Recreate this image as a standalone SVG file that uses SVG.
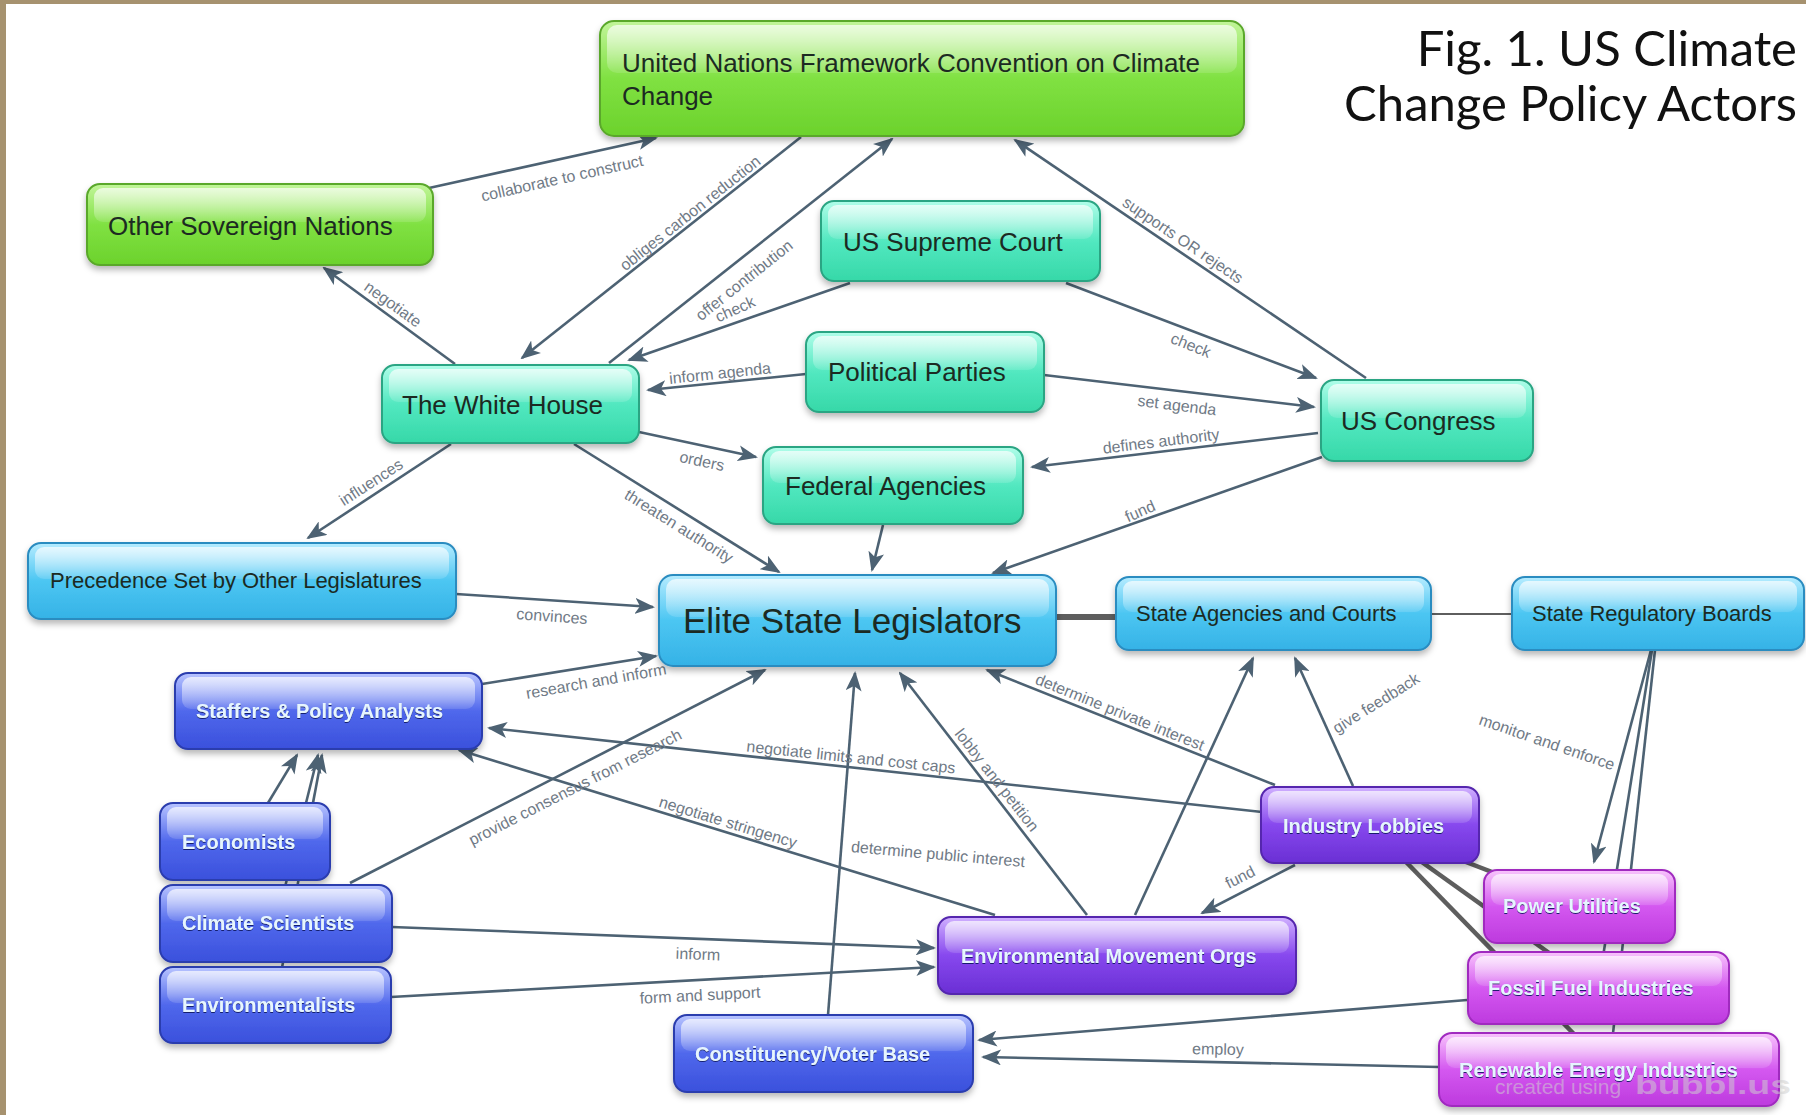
<svg xmlns="http://www.w3.org/2000/svg" width="1806" height="1115" viewBox="0 0 1806 1115">
<defs>
<style>
.lbl{font-family:"Liberation Sans",Arial,sans-serif;font-size:16px;fill:#707a86;text-anchor:middle}
.cn{stroke:#4d6273;stroke-width:2.6;fill:none}
.ar{marker-end:url(#ah)}
.lk{stroke:#5e5e5e;fill:none}
.box{stroke-width:2;filter:url(#sh)}
.hl{fill:url(#gl)}
.nt{font-family:"Liberation Sans",Arial,sans-serif;font-size:26px;fill:#1c2a22}
.n22{font-size:22px}
.n35{font-size:35px}
.lt{font-family:"Liberation Sans",Arial,sans-serif;font-size:20px;font-weight:bold;fill:#e6f5ff;filter:url(#ts)}
.green{fill:url(#gGreen);stroke:#5aa82c}
.teal{fill:url(#gTeal);stroke:#2aa583}
.cyan{fill:url(#gCyan);stroke:#2a8cc0}
.blue{fill:url(#gBlue);stroke:#2b3cae}
.purple{fill:url(#gPurple);stroke:#5427ae}
.magenta{fill:url(#gMag);stroke:#a02cbf}
.title{font-family:Lato,"Noto Sans",sans-serif;font-size:49px;fill:#111;text-anchor:end}
.wm{font-family:"Liberation Sans",Arial,sans-serif;fill:#cfcfcf;fill-opacity:0.55}
</style>
<linearGradient id="gGreen" x1="0" y1="0" x2="0" y2="1"><stop offset="0" stop-color="#c2f59a"/><stop offset="0.5" stop-color="#80e142"/><stop offset="1" stop-color="#6cd22c"/></linearGradient>
<linearGradient id="gTeal" x1="0" y1="0" x2="0" y2="1"><stop offset="0" stop-color="#b0fde9"/><stop offset="0.5" stop-color="#52e8c0"/><stop offset="1" stop-color="#36d8a8"/></linearGradient>
<linearGradient id="gCyan" x1="0" y1="0" x2="0" y2="1"><stop offset="0" stop-color="#b6ecff"/><stop offset="0.5" stop-color="#4cc6f2"/><stop offset="1" stop-color="#35b2e6"/></linearGradient>
<linearGradient id="gBlue" x1="0" y1="0" x2="0" y2="1"><stop offset="0" stop-color="#b8c4ff"/><stop offset="0.5" stop-color="#5068ec"/><stop offset="1" stop-color="#3a50dc"/></linearGradient>
<linearGradient id="gPurple" x1="0" y1="0" x2="0" y2="1"><stop offset="0" stop-color="#d0b0ff"/><stop offset="0.5" stop-color="#8748ee"/><stop offset="1" stop-color="#6a2fd4"/></linearGradient>
<linearGradient id="gMag" x1="0" y1="0" x2="0" y2="1"><stop offset="0" stop-color="#f8c4fc"/><stop offset="0.5" stop-color="#d458f0"/><stop offset="1" stop-color="#bd3ade"/></linearGradient>
<linearGradient id="gl" x1="0" y1="0" x2="0" y2="1"><stop offset="0" stop-color="#fff" stop-opacity="0.7"/><stop offset="1" stop-color="#fff" stop-opacity="0.12"/></linearGradient>
<filter id="sh" x="-10%" y="-20%" width="120%" height="150%"><feDropShadow dx="0" dy="4" stdDeviation="3" flood-color="#000" flood-opacity="0.28"/></filter>
<filter id="ts" x="-5%" y="-20%" width="110%" height="150%"><feDropShadow dx="0" dy="1" stdDeviation="0.6" flood-color="#101860" flood-opacity="0.9"/></filter>
<marker id="ah" viewBox="0 0 20 16" refX="18" refY="8" markerWidth="20" markerHeight="16" markerUnits="userSpaceOnUse" orient="auto"><path d="M0,0 L20,8 L0,16 L5,8 Z" fill="#4d6273"/></marker>
</defs>
<rect x="0" y="0" width="1806" height="1115" fill="#fff"/>
<rect x="0" y="0" width="1806" height="4" fill="#a6926f"/>
<rect x="0" y="0" width="6" height="1115" fill="#a6926f"/>

<g id="connectors">
<line class="lk" stroke-width="6" x1="1056" y1="617" x2="1116" y2="617"/>
<line class="lk" stroke-width="2" x1="1431" y1="614" x2="1512" y2="614"/>
<line class="lk" stroke-width="4.5" x1="1370" y1="825" x2="1580" y2="906"/>
<line class="lk" stroke-width="4.5" x1="1370" y1="825" x2="1598" y2="988"/>
<line class="lk" stroke-width="4.5" x1="1370" y1="825" x2="1609" y2="1070"/>
<line class="cn ar" x1="429" y1="188" x2="656" y2="138"/>
<line class="cn ar" x1="801" y1="137" x2="522" y2="358"/>
<line class="cn ar" x1="609" y1="363" x2="892" y2="139"/>
<line class="cn ar" x1="850" y1="283" x2="629" y2="360"/>
<line class="cn ar" x1="455" y1="364" x2="324" y2="268"/>
<line class="cn ar" x1="1366" y1="378" x2="1015" y2="140"/>
<line class="cn ar" x1="1066" y1="283" x2="1316" y2="378"/>
<line class="cn ar" x1="806" y1="374" x2="648" y2="390"/>
<line class="cn ar" x1="1044" y1="375" x2="1314" y2="407"/>
<line class="cn ar" x1="1318" y1="433" x2="1032" y2="467"/>
<line class="cn ar" x1="639" y1="432" x2="756" y2="457"/>
<line class="cn ar" x1="574" y1="444" x2="779" y2="572"/>
<line class="cn ar" x1="451" y1="444" x2="308" y2="538"/>
<line class="cn ar" x1="883" y1="525" x2="872" y2="570"/>
<line class="cn ar" x1="1322" y1="457" x2="993" y2="573"/>
<line class="cn ar" x1="456" y1="594" x2="653" y2="607"/>
<line class="cn ar" x1="482" y1="684" x2="656" y2="656"/>
<line class="cn ar" x1="350" y1="883" x2="765" y2="670"/>
<line class="cn ar" x1="1262" y1="812" x2="489" y2="728"/>
<line class="cn ar" x1="995" y1="915" x2="459" y2="750"/>
<line class="cn ar" x1="828" y1="1015" x2="855" y2="673"/>
<line class="cn ar" x1="1087" y1="915" x2="900" y2="673"/>
<line class="cn ar" x1="1135" y1="915" x2="1253" y2="658"/>
<line class="cn ar" x1="1353" y1="786" x2="1295" y2="658"/>
<line class="cn ar" x1="1275" y1="785" x2="987" y2="670"/>
<line class="cn ar" x1="1295" y1="865" x2="1202" y2="913"/>
<line class="cn ar" x1="1651" y1="650" x2="1594" y2="862"/>
<line class="cn" stroke-width="2" x1="1652" y1="650" x2="1598" y2="988"/>
<line class="cn" stroke-width="2" x1="1655" y1="650" x2="1609" y2="1070"/>
<line class="cn ar" x1="245" y1="841" x2="297" y2="755"/>
<line class="cn ar" x1="276" y1="923" x2="318" y2="755"/>
<line class="cn ar" x1="275" y1="1005" x2="322" y2="755"/>
<line class="cn ar" x1="392" y1="927" x2="934" y2="948"/>
<line class="cn ar" x1="391" y1="997" x2="934" y2="967"/>
<line class="cn ar" x1="1467" y1="1000" x2="979" y2="1040"/>
<line class="cn ar" x1="1439" y1="1067" x2="983" y2="1057"/>

<text class="lbl" transform="translate(562 178) rotate(-12.5)" dy="0.35em">collaborate to construct</text>
<text class="lbl" transform="translate(690 213) rotate(-38.4)" dy="0.35em">obliges carbon reduction</text>
<text class="lbl" transform="translate(744 280) rotate(-38.5)" dy="0.35em">offer contribution</text>
<text class="lbl" transform="translate(735 309) rotate(-24)" dy="0.35em">check</text>
<text class="lbl" transform="translate(393 304) rotate(36)" dy="0.35em">negotiate</text>
<text class="lbl" transform="translate(1183 240) rotate(34)" dy="0.35em">supports OR rejects</text>
<text class="lbl" transform="translate(1191 345) rotate(22)" dy="0.35em">check</text>
<text class="lbl" transform="translate(720 373) rotate(-6)" dy="0.35em">inform agenda</text>
<text class="lbl" transform="translate(1177 405) rotate(7)" dy="0.35em">set agenda</text>
<text class="lbl" transform="translate(1161 441) rotate(-7)" dy="0.35em">defines authority</text>
<text class="lbl" transform="translate(702 461) rotate(12)" dy="0.35em">orders</text>
<text class="lbl" transform="translate(679 526) rotate(32)" dy="0.35em">threaten authority</text>
<text class="lbl" transform="translate(371 482) rotate(-33)" dy="0.35em">influences</text>
<text class="lbl" transform="translate(1140 511) rotate(-24)" dy="0.35em">fund</text>
<text class="lbl" transform="translate(552 616) rotate(4)" dy="0.35em">convinces</text>
<text class="lbl" transform="translate(596 681) rotate(-10)" dy="0.35em">research and inform</text>
<text class="lbl" transform="translate(575 787) rotate(-27)" dy="0.35em">provide consensus from research</text>
<text class="lbl" transform="translate(851 757) rotate(6)" dy="0.35em">negotiate limits and cost caps</text>
<text class="lbl" transform="translate(728 822) rotate(17)" dy="0.35em">negotiate stringency</text>
<text class="lbl" transform="translate(938 854) rotate(5)" dy="0.35em">determine public interest</text>
<text class="lbl" transform="translate(997 780) rotate(52)" dy="0.35em">lobby and petition</text>
<text class="lbl" transform="translate(1376 703) rotate(-32)" dy="0.35em">give feedback</text>
<text class="lbl" transform="translate(1120 712) rotate(22)" dy="0.35em">determine private interest</text>
<text class="lbl" transform="translate(1240 877) rotate(-27)" dy="0.35em">fund</text>
<text class="lbl" transform="translate(1547 742) rotate(19)" dy="0.35em">monitor and enforce</text>
<text class="lbl" transform="translate(698 954) rotate(2)" dy="0.35em">inform</text>
<text class="lbl" transform="translate(700 995) rotate(-3)" dy="0.35em">form and support</text>
<text class="lbl" transform="translate(1218 1049) rotate(1)" dy="0.35em">employ</text>
</g>

<g id="node-unfccc"><rect class="box green" x="600" y="21" width="644" height="115" rx="14"/><rect class="hl" x="607" y="25" width="630" height="48" rx="10"/><text class="nt" x="622" y="72">United Nations Framework Convention on Climate</text><text class="nt" x="622" y="105">Change</text></g>
<g id="node-osn"><rect class="box green" x="87" y="184" width="346" height="81" rx="13"/><rect class="hl" x="94" y="188" width="332" height="34" rx="9"/><text class="nt" x="108" y="235">Other Sovereign Nations</text></g>
<g id="node-sc"><rect class="box teal" x="821" y="201" width="279" height="80" rx="13"/><rect class="hl" x="828" y="205" width="265" height="34" rx="9"/><text class="nt" x="843" y="251">US Supreme Court</text></g>
<g id="node-pp"><rect class="box teal" x="806" y="332" width="238" height="80" rx="13"/><rect class="hl" x="813" y="336" width="224" height="34" rx="9"/><text class="nt" x="828" y="381">Political Parties</text></g>
<g id="node-wh"><rect class="box teal" x="382" y="365" width="257" height="78" rx="13"/><rect class="hl" x="389" y="369" width="243" height="33" rx="9"/><text class="nt" x="402" y="414">The White House</text></g>
<g id="node-congress"><rect class="box teal" x="1321" y="380" width="212" height="81" rx="13"/><rect class="hl" x="1328" y="384" width="198" height="34" rx="9"/><text class="nt" x="1341" y="430">US Congress</text></g>
<g id="node-fa"><rect class="box teal" x="763" y="447" width="260" height="77" rx="13"/><rect class="hl" x="770" y="451" width="246" height="32" rx="9"/><text class="nt" x="785" y="495">Federal Agencies</text></g>
<g id="node-prec"><rect class="box cyan" x="28" y="543" width="428" height="76" rx="13"/><rect class="hl" x="35" y="547" width="414" height="32" rx="9"/><text class="nt n22" x="50" y="588">Precedence Set by Other Legislatures</text></g>
<g id="node-elite"><rect class="box cyan" x="659" y="575" width="397" height="91" rx="14"/><rect class="hl" x="666" y="579" width="383" height="38" rx="10"/><text class="nt n35" x="683" y="633">Elite State Legislators</text></g>
<g id="node-sac"><rect class="box cyan" x="1116" y="577" width="315" height="73" rx="13"/><rect class="hl" x="1123" y="581" width="301" height="31" rx="9"/><text class="nt n22" x="1136" y="621">State Agencies and Courts</text></g>
<g id="node-srb"><rect class="box cyan" x="1512" y="577" width="292" height="73" rx="13"/><rect class="hl" x="1519" y="581" width="278" height="31" rx="9"/><text class="nt n22" x="1532" y="621">State Regulatory Boards</text></g>
<g id="node-staffers"><rect class="box blue" x="175" y="673" width="307" height="76" rx="13"/><rect class="hl" x="182" y="677" width="293" height="32" rx="9"/><text class="lt" x="196" y="718">Staffers &amp; Policy Analysts</text></g>
<g id="node-econ"><rect class="box blue" x="160" y="803" width="170" height="77" rx="13"/><rect class="hl" x="167" y="807" width="156" height="32" rx="9"/><text class="lt" x="182" y="849">Economists</text></g>
<g id="node-climate"><rect class="box blue" x="160" y="885" width="232" height="77" rx="13"/><rect class="hl" x="167" y="889" width="218" height="32" rx="9"/><text class="lt" x="182" y="930">Climate Scientists</text></g>
<g id="node-env"><rect class="box blue" x="160" y="967" width="231" height="76" rx="13"/><rect class="hl" x="167" y="971" width="217" height="32" rx="9"/><text class="lt" x="182" y="1012">Environmentalists</text></g>
<g id="node-const"><rect class="box blue" x="674" y="1015" width="299" height="77" rx="13"/><rect class="hl" x="681" y="1019" width="285" height="32" rx="9"/><text class="lt" x="695" y="1061">Constituency/Voter Base</text></g>
<g id="node-emo"><rect class="box purple" x="938" y="917" width="358" height="77" rx="13"/><rect class="hl" x="945" y="921" width="344" height="32" rx="9"/><text class="lt" x="961" y="963">Environmental Movement Orgs</text></g>
<g id="node-il"><rect class="box purple" x="1261" y="787" width="218" height="76" rx="13"/><rect class="hl" x="1268" y="791" width="204" height="32" rx="9"/><text class="lt" x="1283" y="833">Industry Lobbies</text></g>
<g id="node-pu"><rect class="box magenta" x="1484" y="870" width="191" height="73" rx="13"/><rect class="hl" x="1491" y="874" width="177" height="31" rx="9"/><text class="lt" x="1503" y="913">Power Utilities</text></g>
<g id="node-ff"><rect class="box magenta" x="1468" y="952" width="261" height="72" rx="13"/><rect class="hl" x="1475" y="956" width="247" height="30" rx="9"/><text class="lt" x="1488" y="995">Fossil Fuel Industries</text></g>
<g id="node-re"><rect class="box magenta" x="1439" y="1033" width="340" height="73" rx="13"/><rect class="hl" x="1446" y="1037" width="326" height="31" rx="9"/><text class="lt" x="1459" y="1077">Renewable Energy Industries</text></g>

<text class="wm" x="1495" y="1094" font-size="21">created using</text>
<text class="wm" x="1635" y="1094" font-size="26" font-weight="bold" textLength="156" lengthAdjust="spacingAndGlyphs">bubbl.us</text>

<g id="title">
<text class="title" x="1797" y="66">Fig. 1. US Climate</text>
<text class="title" x="1797" y="121">Change Policy Actors</text>
</g>
</svg>
